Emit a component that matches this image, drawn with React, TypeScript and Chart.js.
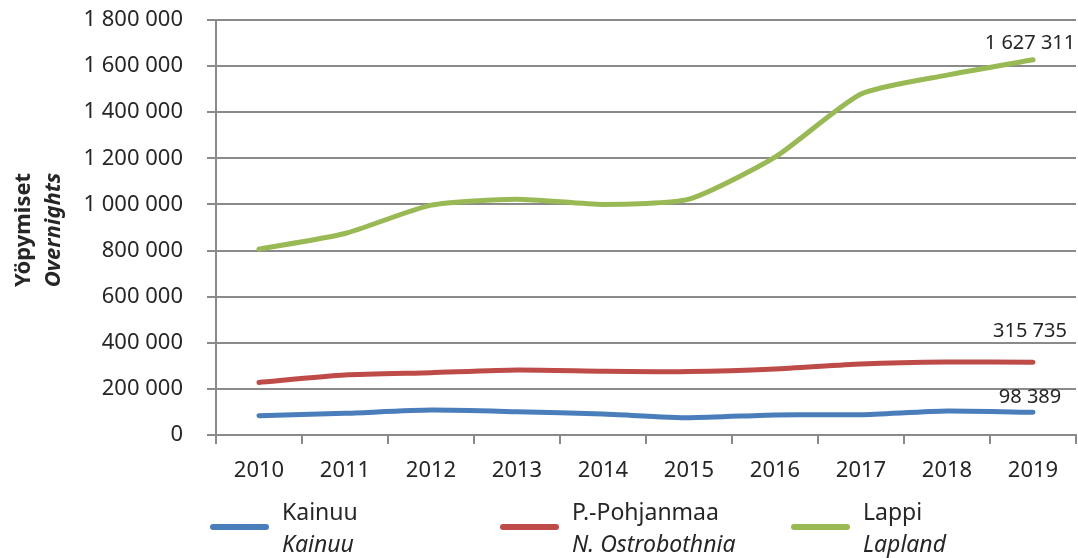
import React, { useEffect, useRef } from "react";
import { Chart, registerables } from "chart.js";

Chart.register(...registerables);

const years = ["2010", "2011", "2012", "2013", "2014", "2015", "2016", "2017", "2018", "2019"];
const kainuu = [84000, 94000, 108000, 101000, 91000, 75000, 87000, 88000, 104000, 98389];
const pohjanmaa = [228000, 260000, 270000, 282000, 277000, 275000, 286000, 308000, 317000, 315735];
const lappi = [806000, 874000, 997000, 1023000, 1000000, 1023000, 1205000, 1479000, 1561000, 1627311];
const seriesNames = ["Kainuu", "P.-Pohjanmaa", "Lappi"];
const seriesNamesEn = ["Kainuu", "N. Ostrobothnia", "Lapland"];
const yTitle = ["Yöpymiset", "Overnights"];
const yMax = 1800000;
const yStep = 200000;

const colors = ["#4A7EBB", "#BE4B48", "#98B954"];
const FONT = "'Noto Sans', 'Open Sans', sans-serif";
const TEXT = "#262626";
const GRID = "#8a8a8a";

const fmt = (v: number) => String(Math.round(v)).replace(/\B(?=(\d{3})+(?!\d))/g, " ");

const labelOffsets = [15, 31, 17];
const legendX = [210, 500, 791];

const customPlugin = {
  id: "custom",
  afterDraw(chart: any) {
    const ctx = chart.ctx as CanvasRenderingContext2D;
    ctx.save();
    // last-point data labels
    ctx.fillStyle = TEXT;
    ctx.font = `20px ${FONT}`;
    ctx.textAlign = "center";
    ctx.textBaseline = "middle";
    chart.data.datasets.forEach((ds: any, i: number) => {
      const meta = chart.getDatasetMeta(i);
      const pt = meta.data[meta.data.length - 1];
      const v = ds.data[ds.data.length - 1];
      ctx.fillText(fmt(v), pt.x - 3, pt.y - labelOffsets[i]);
    });
    // y-axis title
    ctx.save();
    ctx.translate(24, 230);
    ctx.rotate(-Math.PI / 2);
    ctx.textAlign = "center";
    ctx.font = `bold 22px ${FONT}`;
    ctx.fillText(yTitle[0], 0, 0);
    ctx.font = `italic bold 22px ${FONT}`;
    ctx.fillText(yTitle[1], 0, 30);
    ctx.restore();
    // legend
    seriesNames.forEach((name, i) => {
      const x = legendX[i];
      ctx.strokeStyle = colors[i];
      ctx.lineWidth = 6;
      ctx.lineCap = "round";
      ctx.beginPath();
      ctx.moveTo(x + 3, 527);
      ctx.lineTo(x + 56, 527);
      ctx.stroke();
      ctx.textAlign = "left";
      ctx.fillStyle = TEXT;
      ctx.font = `23px ${FONT}`;
      ctx.fillText(name, x + 72, 513);
      ctx.font = `italic 23px ${FONT}`;
      ctx.fillText(seriesNamesEn[i], x + 72, 545);
    });
    ctx.restore();
  },
};

export default function App() {
  const ref = useRef<HTMLCanvasElement>(null);
  useEffect(() => {
    document.body.style.margin = "0";
    const data = [kainuu, pohjanmaa, lappi];
    const chart = new Chart(ref.current!, {
      type: "line",
      data: {
        labels: years,
        datasets: data.map((d, i) => ({
          label: seriesNames[i],
          data: d,
          borderColor: colors[i],
          backgroundColor: colors[i],
          borderWidth: 5,
          borderCapStyle: "round",
          borderJoinStyle: "round",
          pointRadius: 0,
          tension: 0.2,
          fill: false,
        })),
      },
      options: {
        animation: false,
        responsive: false,
        maintainAspectRatio: false,
        layout: { padding: { top: 20, right: 2, left: 0, bottom: 0 } },
        plugins: { legend: { display: false }, tooltip: { enabled: false } },
        scales: {
          x: {
            offset: true,
            grid: {
              offset: true,
              drawOnChartArea: false,
              drawTicks: true,
              tickLength: 9,
              color: GRID,
              lineWidth: 2,
            },
            border: { color: GRID, width: 2 },
            ticks: { color: TEXT, font: { family: FONT, size: 22 }, padding: 14, maxRotation: 0 },
            afterFit(scale: any) {
              scale.height = 123;
              scale.paddingLeft = 0;
              scale.paddingRight = 0;
            },
          },
          y: {
            min: 0,
            max: yMax,
            ticks: {
              stepSize: yStep,
              color: TEXT,
              font: { family: FONT, size: 22 },
              padding: 24,
              callback: (v: any) => fmt(Number(v)),
            },
            grid: { color: GRID, lineWidth: 2, tickLength: 9 },
            border: { color: GRID, width: 2 },
            afterFit(scale: any) {
              scale.width = 216;
              scale.paddingTop = 0;
              scale.paddingBottom = 0;
            },
          },
        },
      },
      plugins: [customPlugin],
    } as any);
    return () => chart.destroy();
  }, []);
  return <canvas ref={ref} width={1078} height={558} style={{ display: "block", width: "1078px", height: "558px" }} />;
}
